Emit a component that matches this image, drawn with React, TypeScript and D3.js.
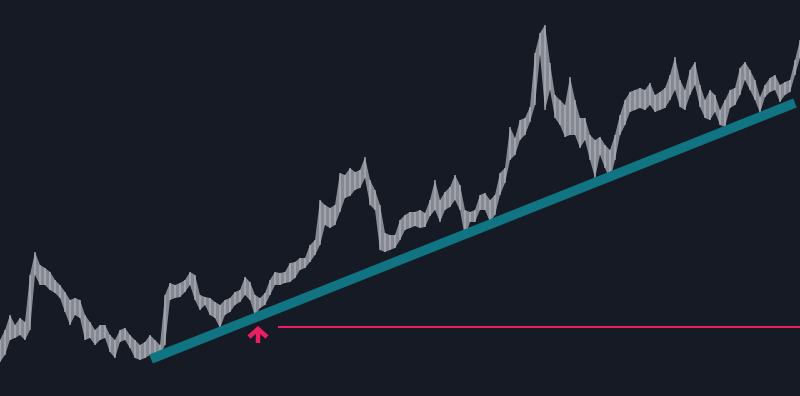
import React from "react";
import * as d3 from "d3";

// Price series sampled every step (high / low per step); price units arbitrary
const highs = [
  60, 70, 85, 75, 82, 78, 125, 148, 135, 132,
  128, 120, 115, 108, 100, 102, 100, 85, 78, 70,
  75, 75, 65, 60, 70, 72, 65, 60, 55, 58,
  65, 60, 55, 105, 117, 115, 117, 120, 128, 125,
  105, 103, 102, 98, 95, 100, 102, 108, 110, 123,
  118, 105, 102, 107, 120, 128, 127, 128, 137, 138,
  142, 142, 155, 160, 200, 195, 192, 195, 227, 225,
  232, 228, 230, 243, 220, 210, 195, 167, 165, 165,
  180, 185, 188, 188, 190, 187, 200, 220, 200, 208,
  213, 225, 215, 190, 188, 190, 205, 207, 200, 205,
  227, 232, 273, 262, 280, 282, 293, 347, 367, 375,
  337, 305, 300, 295, 323, 300, 282, 282, 265, 260,
  263, 255, 250, 265, 285, 300, 308, 310, 312, 310,
  317, 305, 308, 312, 325, 343, 320, 310, 330, 338,
  315, 300, 310, 305, 290, 300, 310, 312, 332, 338,
  330, 320, 303, 315, 322, 325, 315, 318, 320, 340,
  360,
];
const lows = [
  38, 45, 60, 62, 65, 60, 70, 125, 115, 115,
  110, 107, 102, 88, 75, 85, 82, 60, 62, 55,
  60, 62, 48, 42, 58, 60, 52, 42, 40, 42,
  45, 42, 44, 55, 100, 102, 103, 108, 115, 100,
  90, 95, 85, 82, 72, 85, 88, 95, 98, 105,
  100, 84, 92, 95, 105, 115, 115, 117, 118, 122,
  130, 132, 138, 145, 155, 175, 172, 175, 188, 202,
  204, 210, 212, 222, 195, 190, 150, 148, 150, 152,
  160, 170, 172, 174, 172, 173, 184, 190, 178, 190,
  193, 200, 190, 162, 178, 178, 190, 190, 178, 185,
  205, 217, 240, 245, 260, 265, 278, 295, 345, 290,
  310, 282, 275, 263, 265, 265, 252, 260, 240, 222,
  245, 232, 220, 240, 265, 275, 288, 290, 292, 290,
  295, 288, 290, 292, 300, 310, 293, 290, 305, 315,
  293, 282, 280, 288, 275, 273, 292, 295, 305, 320,
  310, 300, 287, 303, 308, 310, 298, 305, 308, 325,
  342,
];

// Support trendline (index, price) and breakout level
const trendIdx = [30.2, 159];
const trendPrice = [41, 297];
const levelStartIdx = 55.6;
const levelPrice = 73;
const arrowIdx = 51.6;
const arrowPrice = [57, 72];

const W = 800;
const H = 396;

export default function App() {
  const n = highs.length;
  const x = d3.scaleLinear().domain([0, n - 1]).range([0, W]);
  const y = d3.scaleLinear().domain([0, 400]).range([400, 0]);

  const idx = d3.range(n);
  const area = d3
    .area<number>()
    .x((i) => x(i))
    .y0((i) => y(lows[i]))
    .y1((i) => y(highs[i]))
    .curve(d3.curveLinear);

  const ax = x(arrowIdx);
  const aTop = y(arrowPrice[1]);
  const aBot = y(arrowPrice[0]);

  return (
    <div style={{ position: "fixed", left: 0, top: 0, width: W, height: H, background: "#161a25" }}>
      <svg width={W} height={H} style={{ display: "block" }}>
        <rect width={W} height={H} fill="#161a25" />
        <path d={area(idx) || ""} fill="#9a9da6" fillOpacity={0.85} />
        {idx.map((i) => (
          <line
            key={i}
            x1={x(i)}
            x2={x(i)}
            y1={y(lows[i])}
            y2={y(highs[i])}
            stroke="#b2b5be"
            strokeWidth={1.2}
          />
        ))}
        <line
          x1={x(trendIdx[0])}
          y1={y(trendPrice[0])}
          x2={x(trendIdx[1])}
          y2={y(trendPrice[1])}
          stroke="#117482"
          strokeWidth={9.5}
          strokeLinecap="butt"
        />
        <line
          x1={x(levelStartIdx)}
          x2={W}
          y1={y(levelPrice)}
          y2={y(levelPrice)}
          stroke="#e91e63"
          strokeWidth={2}
        />
        <g stroke="#e91e63" strokeWidth={4.5} fill="none">
          <line x1={ax} x2={ax} y1={aBot} y2={aTop + 2} />
          <polyline
            points={`${ax - 9},${aTop + 9} ${ax},${aTop + 1} ${ax + 9},${aTop + 9}`}
            strokeLinejoin="miter"
          />
        </g>
      </svg>
    </div>
  );
}
